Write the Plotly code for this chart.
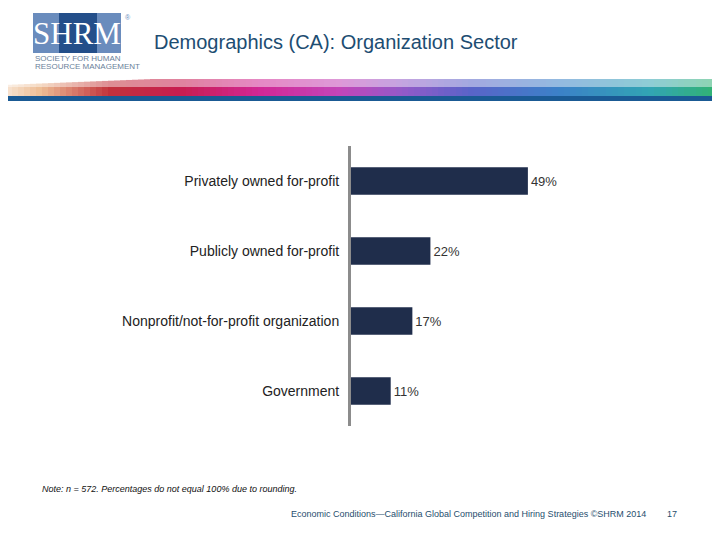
import plotly.graph_objects as go

categories = ["Privately owned for-profit", "Publicly owned for-profit",
              "Nonprofit/not-for-profit organization", "Government"]
values = [49, 22, 17, 11]
value_labels = ["49%", "22%", "17%", "11%"]

title_text = "Demographics (CA): Organization Sector"
note_text = "Note: n = 572. Percentages do not equal 100% due to rounding."
footer_text = "Economic Conditions\u2014California Global Competition and Hiring Strategies \u00a9SHRM 2014"
page_num = "17"

# page has an 8px body margin; figure drawn inside it
OFF = 8
W, H = 712, 532
ML, MR, MT, MB = 343, 8, 138, 114
PW = W - ML - MR
PH = H - MT - MB

def px(x):
    # x given in reference-screen pixels
    return (x - OFF - ML) / PW

def py(y):
    return (H - MB - (y - OFF)) / PH

fig = go.Figure()
fig.add_trace(go.Bar(
    y=categories, x=values, orientation="h",
    marker=dict(color="#1f2d4b", line=dict(width=0)),
    text=value_labels, textposition="outside",
    textfont=dict(family="Liberation Sans, Arial", size=13, color="#333333"),
    cliponaxis=False, width=0.39,
))

shapes = []
stops = [(0, (250, 235, 220)), (40, (238, 190, 150)), (110, (195, 50, 60)),
         (180, (200, 30, 80)), (260, (210, 40, 150)), (340, (195, 70, 185)),
         (400, (150, 90, 200)), (470, (90, 100, 200)), (560, (60, 130, 200)),
         (650, (50, 165, 180)), (720, (50, 180, 110))]

def col_at(x):
    for (x0, c0), (x1, c1) in zip(stops[:-1], stops[1:]):
        if x0 <= x <= x1:
            t = (x - x0) / (x1 - x0)
            return tuple(int(c0[i] + (c1[i] - c0[i]) * t) for i in range(3))
    return stops[-1][1]

step = 6
for x in range(0, 726, step):
    c = col_at(min(x + step / 2, 720))
    light = tuple(int(v + (255 - v) * 0.45) for v in c)
    top = 79 if x > 150 else 79 + (150 - x) * 0.04
    shapes.append(dict(type="rect", xref="paper", yref="paper",
                       x0=px(x), x1=px(x + step), y0=py(top), y1=py(87),
                       fillcolor="rgb(%d,%d,%d)" % light, line=dict(width=0), layer="above"))
    shapes.append(dict(type="rect", xref="paper", yref="paper",
                       x0=px(x), x1=px(x + step), y0=py(87), y1=py(96),
                       fillcolor="rgb(%d,%d,%d)" % c, line=dict(width=0), layer="above"))
shapes.append(dict(type="rect", xref="paper", yref="paper",
                   x0=px(0), x1=px(728), y0=py(96), y1=py(101),
                   fillcolor="#1a5a94", line=dict(width=0)))
# logo boxes
shapes.append(dict(type="rect", xref="paper", yref="paper",
                   x0=px(33), x1=px(121), y0=py(13), y1=py(53),
                   fillcolor="#6a8cbd", line=dict(width=0)))
shapes.append(dict(type="rect", xref="paper", yref="paper",
                   x0=px(59), x1=px(97), y0=py(13), y1=py(53),
                   fillcolor="#244f8a", line=dict(width=0)))

def ann(text, x, y, size, color, family="Liberation Sans, Arial", anchor="left"):
    return dict(text=text, x=px(x), y=py(y), xref="paper", yref="paper",
                showarrow=False, xanchor=anchor, yanchor="middle",
                font=dict(family=family, size=size, color=color))

serif = "Liberation Serif, Times New Roman"
annotations = [
    ann("SHRM", 77, 33, 31, "white", serif, "center"),
    ann("\u00ae", 123, 17, 7, "#6a8cbd"),
    ann("SOCIETY FOR HUMAN", 33, 58, 8, "#6a7f9a"),
    ann("RESOURCE MANAGEMENT", 33, 67, 8, "#6a7f9a"),
    ann(title_text, 152, 42, 20, "#1d4d72"),
    ann("<i>" + note_text + "</i>", 40, 489, 9, "#111111"),
    ann(footer_text, 648, 514, 9, "#1f4e6e", anchor="right"),
    ann(page_num, 672, 514, 9, "#1f4e6e", anchor="center"),
]

fig.update_layout(
    width=W, height=H,
    margin=dict(l=ML, r=MR, t=MT, b=MB, pad=0),
    paper_bgcolor="white", plot_bgcolor="white",
    showlegend=False,
    xaxis=dict(range=[0, 100], visible=False, fixedrange=True),
    yaxis=dict(autorange="reversed", showline=True, linecolor="#8c8c8c", linewidth=3,
               showgrid=False, zeroline=False, ticks="", ticklabelstandoff=6,
               tickfont=dict(family="Liberation Sans, Arial", size=14, color="#222222")),
    shapes=shapes,
    annotations=annotations,
)

fig.write_html("out.html")
